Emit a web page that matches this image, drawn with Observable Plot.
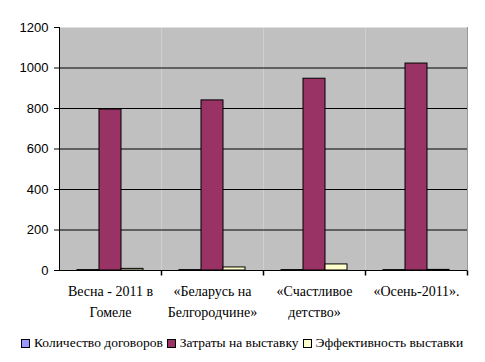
<!DOCTYPE html>
<html><head><meta charset="utf-8">
<script src="https://cdn.jsdelivr.net/npm/d3@7"></script>
<script src="https://cdn.jsdelivr.net/npm/@observablehq/plot@0.6"></script>
<style>
body{margin:0;background:#fff;}
#legend{display:flex;white-space:nowrap;font-family:"Liberation Serif","Times New Roman",serif;font-size:13.5px;margin-left:21px;margin-top:10px;}
#legend span.item{display:flex;align-items:center;margin-right:4px;flex:none;}
#legend span.sw{width:7px;height:7px;border:1px solid #000;margin-right:4px;display:inline-block;}
</style></head>
<body><div id="chart"></div>
<script>
const categories = ["Весна - 2011 в\nГомеле", "«Беларусь на\nБелгородчине»", "«Счастливое\nдетство»", "«Осень-2011»."];
const series = ["Количество договоров", "Затраты на выставку", "Эффективность выставки"];
const contracts = [2, 2, 2, 2];
const costs = [795, 840, 947, 1022];
const efficiency = [8, 15, 30, 3];
const colors = ["#9999ff", "#993366", "#ffffcc"];
const yTicks = [0, 200, 400, 600, 800, 1000, 1200];

const data = [];
categories.forEach((c, i) => {
  data.push({cat: c, s: series[0], v: contracts[i]});
  data.push({cat: c, s: series[1], v: costs[i]});
  data.push({cat: c, s: series[2], v: efficiency[i]});
});

const tickSymbol = {draw(ctx, size){ ctx.moveTo(0,0); ctx.lineTo(0,5); }};

const plot = Plot.plot({
  width: 485, height: 325,
  marginTop: 27, marginLeft: 58, marginRight: 17, marginBottom: 55,
  style: {fontFamily: "'Liberation Sans', Arial, sans-serif", fontSize: "13px", color: "#000", background: "#fff"},
  fx: {domain: categories, padding: 0, label: null},
  x: {domain: series, paddingInner: 0, paddingOuter: 0.73, axis: null},
  y: {domain: [0, 1200], ticks: yTicks, label: null},
  color: {domain: series, range: colors},
  marks: [
    Plot.frame({fill: "#c0c0c0", stroke: "none"}),
    Plot.ruleY(yTicks.filter(t => t > 0 && t < 1200), {stroke: "#000"}),
    Plot.frame({facet: "super", anchor: "left", stroke: "#000"}),
    Plot.frame({facet: "super", anchor: "right", stroke: "#999"}),
    Plot.barY(data, {fx: "cat", x: "s", y: "v", fill: "s", stroke: "#000", strokeWidth: 1}),
    Plot.ruleY([0], {stroke: "#000"}),
    Plot.dot(categories, {fx: d => d, frameAnchor: "bottom-right", symbol: tickSymbol, stroke: "#000", r: 3}),
    Plot.axisY({ticks: yTicks, tickFormat: d3.format("d"), tickSize: 5, tickPadding: 6, fontSize: 13, label: null, stroke: "#000"}),
    Plot.axisFx({anchor: "bottom", tickSize: 0, tickPadding: 11, fontSize: 14, lineHeight: 1.5,
      fontFamily: "'Liberation Serif', 'Times New Roman', serif", label: null})
  ]
});
document.getElementById("chart").appendChild(plot);

const legend = document.createElement("div");
legend.id = "legend";
series.forEach((s, i) => {
  const item = document.createElement("span");
  item.className = "item";
  const sw = document.createElement("span");
  sw.className = "sw";
  sw.style.background = colors[i];
  item.appendChild(sw);
  item.appendChild(document.createTextNode(s));
  legend.appendChild(item);
});
document.getElementById("chart").appendChild(legend);
</script></body></html>
